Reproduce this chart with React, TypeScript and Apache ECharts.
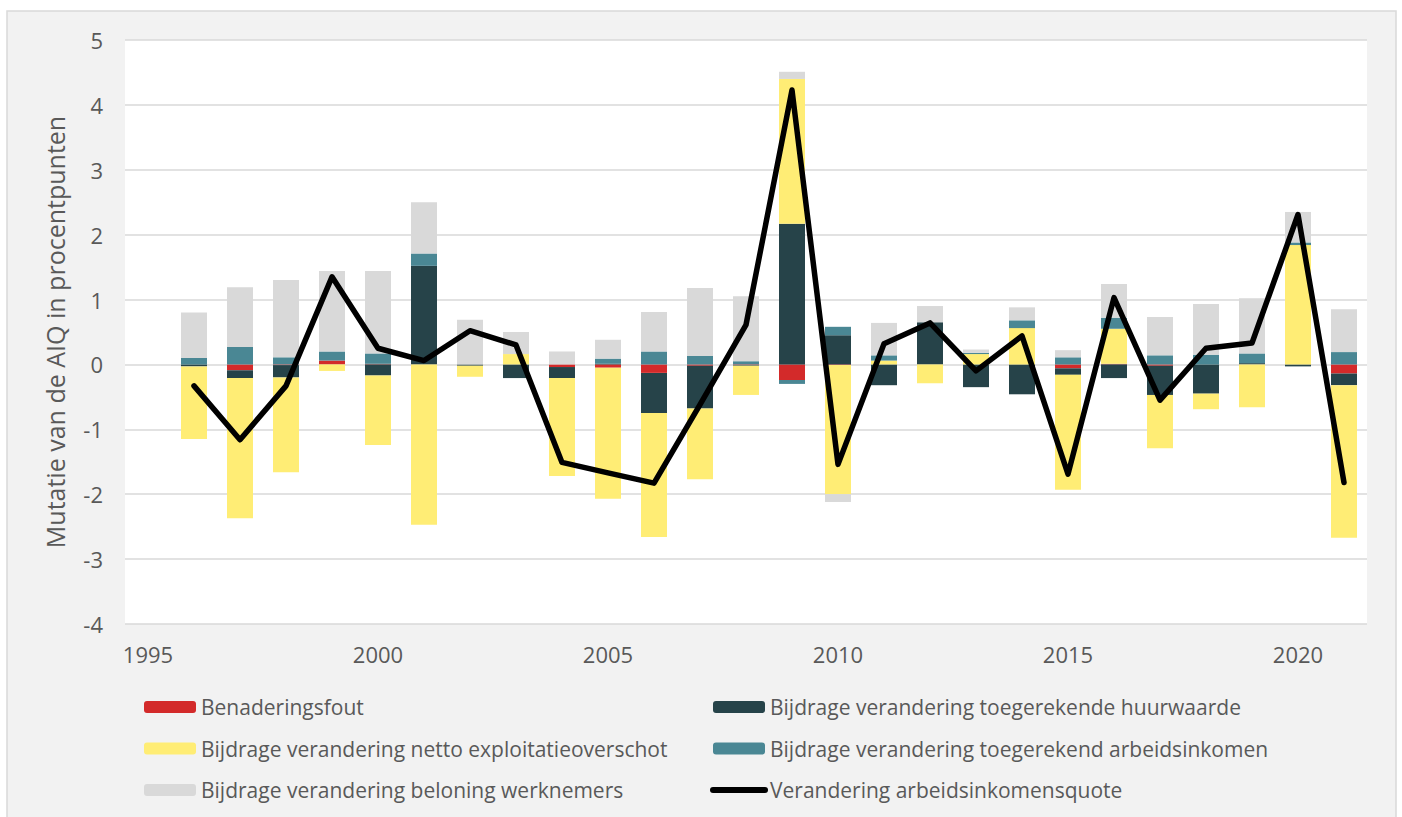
import React, { useEffect, useRef } from "react";
import * as echarts from "echarts";

const years = ["1995","1996","1997","1998","1999","2000","2001","2002","2003","2004","2005","2006","2007","2008","2009","2010","2011","2012","2013","2014","2015","2016","2017","2018","2019","2020","2021"];

const benaderingsfout = [null, 0, -0.09, -0.01, 0.06, 0.01, 0, 0, 0, -0.04, -0.05, -0.13, -0.02, -0.01, -0.24, -0.01, 0, 0, 0, 0, -0.06, 0.01, -0.02, 0, 0, 0, -0.14];
const huurwaarde = [null, -0.03, -0.12, -0.19, 0, -0.17, 1.52, -0.02, -0.21, -0.17, 0.01, -0.62, -0.66, -0.01, 2.17, 0.45, -0.32, 0.65, -0.35, -0.46, -0.1, -0.21, -0.45, -0.45, 0.02, -0.03, -0.18];
const nettoExploitatie = [null, -1.12, -2.16, -1.46, -0.1, -1.07, -2.47, -0.17, 0.16, -1.51, -2.02, -1.91, -1.09, -0.45, 2.23, -1.99, 0.06, -0.29, 0.16, 0.56, -1.77, 0.54, -0.82, -0.24, -0.66, 1.84, -2.35];
const toegerekendArbeid = [null, 0.1, 0.27, 0.11, 0.14, 0.16, 0.19, 0, 0, 0, 0.08, 0.2, 0.13, 0.05, -0.06, 0.13, 0.08, 0, 0.02, 0.12, 0.11, 0.17, 0.14, 0.15, 0.15, 0.04, 0.19];
const beloning = [null, 0.7, 0.92, 1.19, 1.24, 1.27, 0.79, 0.69, 0.34, 0.2, 0.29, 0.61, 1.05, 1.0, 0.11, -0.12, 0.5, 0.25, 0.05, 0.2, 0.11, 0.52, 0.59, 0.78, 0.85, 0.47, 0.66];
const aiq = [null, -0.33, -1.16, -0.33, 1.35, 0.25, 0.06, 0.52, 0.3, -1.51, -1.67, -1.83, -0.62, 0.61, 4.23, -1.54, 0.32, 0.64, -0.1, 0.44, -1.69, 1.03, -0.55, 0.25, 0.33, 2.31, -1.82];

const names = [
  "Benaderingsfout",
  "Bijdrage verandering toegerekende huurwaarde",
  "Bijdrage verandering netto exploitatieoverschot",
  "Bijdrage verandering toegerekend arbeidsinkomen",
  "Bijdrage verandering beloning werknemers",
  "Verandering arbeidsinkomensquote",
];
const colors = ["#D32A2A", "#264349", "#FFED75", "#4A8794", "#D9D9D9", "#000000"];

const FONT = "Open Sans";
const TXT = "#595959";

export default function App() {
  const ref = useRef<HTMLDivElement>(null);
  useEffect(() => {
    if (!ref.current) return;
    const chart = echarts.init(ref.current, undefined, { renderer: "svg" });
    const barData = [benaderingsfout, huurwaarde, nettoExploitatie, toegerekendArbeid, beloning];
    const legendCommon = {
      orient: "vertical",
      itemWidth: 52,
      itemHeight: 12,
      itemGap: 17.5,
      padding: 0,
      selectedMode: false,
      textStyle: { fontFamily: FONT, fontSize: 21, color: TXT, lineHeight: 24 },
    };
    chart.setOption({
      animation: false,
      backgroundColor: "#ffffff",
      textStyle: { fontFamily: FONT },
      graphic: [
        {
          type: "rect",
          z: -100,
          shape: { x: 7, y: 11, width: 1389, height: 830 },
          style: { fill: "#F2F2F2", stroke: "#D9D9D9", lineWidth: 1.5 },
        },
      ],
      grid: {
        left: 125,
        right: 35,
        top: 40,
        bottom: 193,
        show: true,
        backgroundColor: "#ffffff",
        borderWidth: 0,
      },
      legend: [
        { ...legendCommon, left: 144, top: 695, data: [names[0], names[2], names[4]] },
        {
          ...legendCommon,
          left: 710,
          top: 695,
          data: [names[1], names[3], { name: names[5], itemStyle: { opacity: 0 }, lineStyle: { width: 6, cap: "round" } }],
        },
      ],
      xAxis: {
        type: "category",
        data: years,
        boundaryGap: true,
        axisLine: { show: false },
        axisTick: { show: false },
        axisLabel: { interval: 4, color: TXT, fontSize: 22, fontFamily: FONT, margin: 19 },
        splitLine: { show: false },
      },
      yAxis: {
        type: "value",
        min: -4,
        max: 5,
        interval: 1,
        name: "Mutatie van de AIQ in procentpunten",
        nameLocation: "middle",
        nameGap: 58,
        nameTextStyle: { color: TXT, fontSize: 25, fontFamily: FONT },
        axisLine: { show: false },
        axisTick: { show: false },
        axisLabel: { color: TXT, fontSize: 22, fontFamily: FONT, margin: 22 },
        splitLine: { lineStyle: { color: "#D9D9D9", width: 1.5 } },
      },
      series: [
        ...barData.map((d, i) => ({
          name: names[i],
          type: "bar",
          stack: "total",
          barWidth: 26,
          data: d,
          itemStyle: { color: colors[i] },
        })),
        {
          name: names[5],
          type: "line",
          data: aiq,
          symbol: "none",
          z: 5,
          lineStyle: { color: "#000000", width: 5.5, join: "round", cap: "round" },
          itemStyle: { color: "#000000" },
        },
      ],
    });
    return () => chart.dispose();
  }, []);
  return <div ref={ref} style={{ position: "absolute", left: 0, top: 0, width: 1402, height: 817 }} />;
}
